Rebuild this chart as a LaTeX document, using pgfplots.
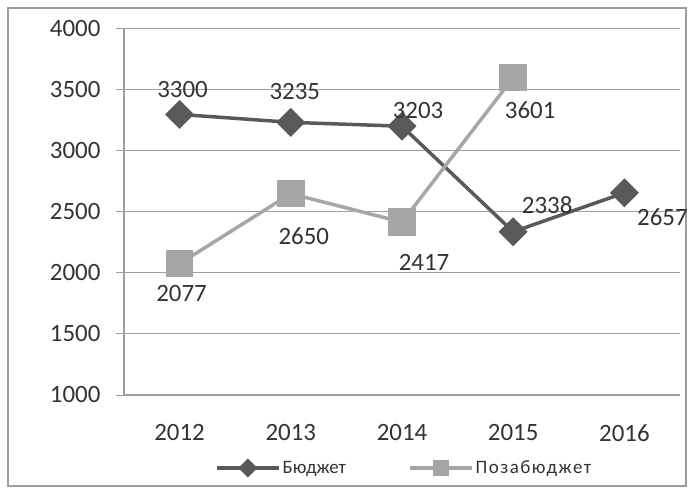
\documentclass[border=0pt]{standalone}
\usepackage{pgfplots}
\usepackage{pgfplotstable}
\pgfplotsset{compat=1.18}
\usepackage{fontspec}
\setmainfont{Carlito}

\definecolor{budgetc}{HTML}{595959}
\definecolor{extrac}{HTML}{A6A6A6}
\definecolor{gridc}{HTML}{9E9E9E}
\definecolor{txt}{HTML}{333333}

\pgfplotstableread{
x y dx dy
0 3300 3 25
1 3235 4 31
2 3203 16 16
3 2338 34 27
4 2657 38 -24
}\tblbudget

\pgfplotstableread{
x y dx dy
0 2077 2 -30
1 2650 13 -42
2 2417 22 -40
3 3601 17 -33
}\tblextra

\begin{document}
\begin{tikzpicture}
\path[use as bounding box] (-124bp,-99bp) rectangle (570bp,395bp);
\draw[gridc, line width=1.5bp] (-116bp,-91bp) rectangle (562bp,387bp);
\begin{axis}[
  at={(0,0)}, anchor=south west, scale only axis,
  width=556bp, height=366bp,
  xmin=-0.5, xmax=4.5, ymin=1000, ymax=4000,
  xtick={0,1,2,3,4}, xticklabels={2012,2013,2014,2015,2016},
  minor xtick={-0.5,0.5,1.5,2.5,3.5,4.5},
  ytick={1000,1500,2000,2500,3000,3500,4000},
  axis x line*=bottom, axis y line*=left,
  axis line style={gridc, line width=1.2bp},
  ymajorgrids, grid style={gridc, line width=1bp},
  major tick length=8bp, minor tick length=6bp, tick align=outside,
  xtick style={draw=none}, minor x tick style={gridc, line width=1bp},
  ytick style={gridc, line width=1bp},
  tick label style={font=\fontsize{25}{30}\selectfont, text=txt},
  yticklabel style={xshift=-12bp},
  xticklabel style={yshift=-18bp},
  /pgf/number format/assume math mode=true,
  /pgf/number format/1000 sep={},
  clip=false,
  nodes near coords,
  every node near coord/.append style={anchor=center, font=\fontsize{25}{30}\selectfont, text=txt, xshift=\dx bp, yshift=\dy bp},
  visualization depends on={\thisrow{dx} \as \dx},
  visualization depends on={\thisrow{dy} \as \dy},
]
\addplot[budgetc, line width=3.5bp, mark=square*, mark size=8.5bp, mark options={rotate=45, solid}] table[x=x, y=y] {\tblbudget};
\addplot[extrac, line width=3.5bp, mark=square*, mark size=12bp, mark options={solid}] table[x=x, y=y] {\tblextra};
\end{axis}
\begin{axis}[
  at={(0,0)}, anchor=south west, scale only axis,
  width=556bp, height=366bp,
  xmin=-0.5, xmax=4.5, ymin=1000, ymax=4000,
  hide axis,
  legend columns=2,
  legend style={draw=none, fill=none, font=\fontsize{19}{23}\selectfont, text=txt,
    inner sep=0pt, outer sep=0pt,
    at={(axis description cs:0.164,0)}, anchor=west, yshift=-73bp,
    /tikz/every odd column/.append style={inner sep=0pt},
    /tikz/every even column/.append style={column sep=60bp}},
  legend image code/.code={\draw[mark repeat=2,mark phase=2,#1] plot coordinates {(0bp,0bp) (31bp,0bp) (62bp,0bp)};},
]
\addlegendimage{budgetc, line width=3.5bp, mark=square*, mark size=5bp, mark options={rotate=45, solid}}
\addlegendentry{Бюджет}
\addlegendimage{extrac, line width=3.5bp, mark=square*, mark size=6bp, mark options={solid}}
\addlegendentry{\addfontfeature{LetterSpace=8}Позабюджет}
\end{axis}
\end{tikzpicture}
\end{document}
